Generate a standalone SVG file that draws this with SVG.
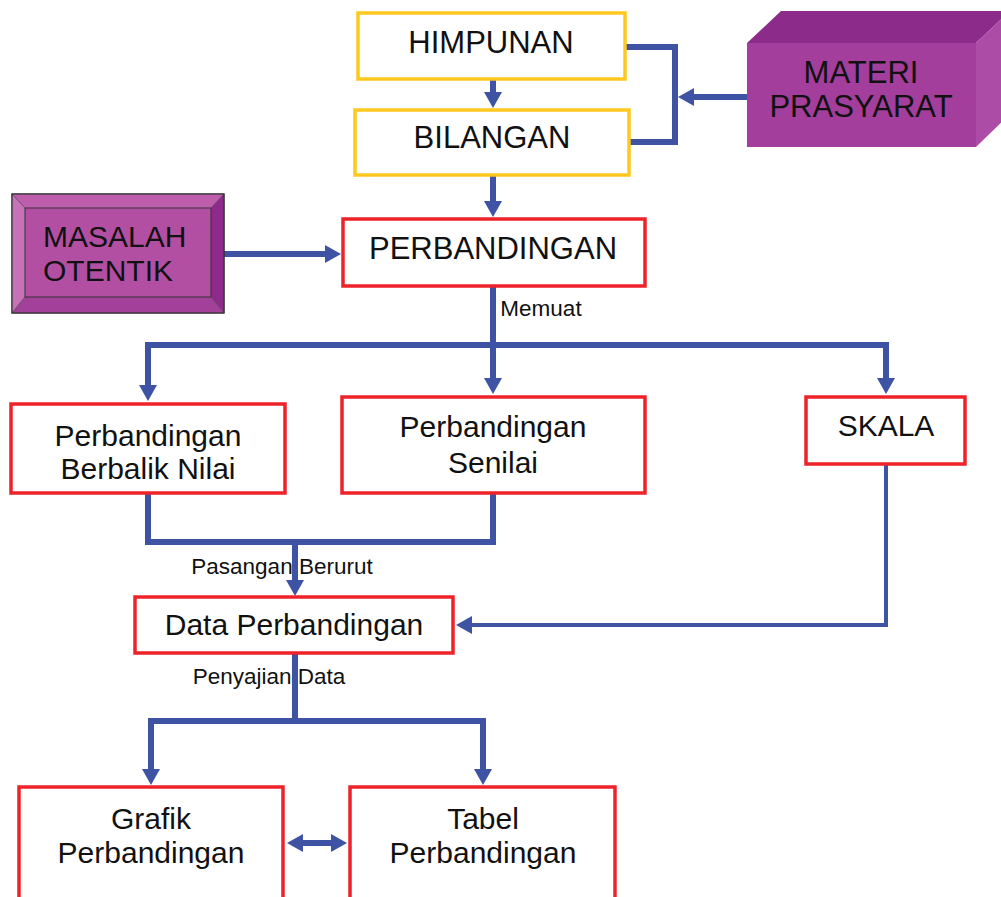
<svg xmlns="http://www.w3.org/2000/svg" width="1001" height="897" viewBox="0 0 1001 897">
<defs>
<style>
.yb{fill:#fff;stroke:#FFC81E;stroke-width:3.5}
.rb{fill:#fff;stroke:#EE2229;stroke-width:3.5}
.t{font-family:"Liberation Sans",Arial,sans-serif;fill:#111;text-anchor:middle}
.t30{font-size:30px}
.t31{font-size:31px}
.t22{font-size:22.5px}
.ln{fill:none;stroke:#3E53A4;stroke-width:6}
.thin{fill:none;stroke:#3E53A4;stroke-width:4}
.hd{fill:#3E53A4}
</style>
</defs>
<rect width="1001" height="897" fill="#fff"/>

<g id="connectors">
<line class="ln" x1="493" y1="80" x2="493" y2="94"/>
<path class="hd" d="M484,92 L502,92 L493,108 z"/>
<line class="ln" x1="493" y1="176" x2="493" y2="203"/>
<path class="hd" d="M484,201 L502,201 L493,217 z"/>
<polyline class="ln" points="625,47 675,47 675,142 629,142"/>
<line class="ln" x1="747" y1="97" x2="692" y2="97"/>
<path class="hd" d="M694,88 L694,106 L678,97 z"/>
<line class="ln" x1="224" y1="254" x2="327" y2="254"/>
<path class="hd" d="M325,245 L325,263 L341,254 z"/>
<line class="ln" x1="493" y1="287" x2="493" y2="345"/>
<polyline class="ln" points="148,386 148,345 886,345 886,380"/>
<line class="ln" x1="493" y1="345" x2="493" y2="380"/>
<path class="hd" d="M139,385 L157,385 L148,401 z"/>
<path class="hd" d="M484,378 L502,378 L493,394 z"/>
<path class="hd" d="M877,378 L895,378 L886,394 z"/>
<polyline class="ln" points="148,493 148,542 493,542 493,493"/>
<line class="ln" x1="295" y1="542" x2="295" y2="582"/>
<path class="hd" d="M286,580 L304,580 L295,596 z"/>
<polyline class="thin" points="886,464 886,625 470,625"/>
<path class="hd" d="M472,616 L472,634 L456,625 z"/>
<line class="ln" x1="295" y1="654" x2="295" y2="721"/>
<polyline class="ln" points="151,771 151,721 483,721 483,771"/>
<path class="hd" d="M142,769 L160,769 L151,785 z"/>
<path class="hd" d="M474,769 L492,769 L483,785 z"/>
<line class="ln" x1="300" y1="843" x2="334" y2="843"/>
<path class="hd" d="M303,834 L303,852 L287,843 z"/>
<path class="hd" d="M331,834 L331,852 L347,843 z"/>
<text class="t t22" x="541" y="316">Memuat</text>
<text class="t t22" x="282" y="574">Pasangan Berurut</text>
<text class="t t22" x="269" y="684">Penyajian Data</text>
</g>

<g id="himpunan">
<rect class="yb" x="358" y="13" width="267" height="66"/>
<text class="t t31" x="491" y="53">HIMPUNAN</text>
</g>
<g id="bilangan">
<rect class="yb" x="355" y="110" width="274" height="65"/>
<text class="t t31" x="492" y="148">BILANGAN</text>
</g>
<g id="materi">
<path d="M747,43 L781,11 L1010,11 L976,43 z" fill="#8D2B8B"/>
<path d="M976,43 L1010,11 L1010,114 L976,147 z" fill="#AC4CA6"/>
<rect x="747" y="43" width="229" height="104" fill="#A33E9C"/>
<text class="t t31" x="861" y="83">MATERI</text>
<text class="t t31" x="861" y="117">PRASYARAT</text>
</g>
<g id="perbandingan">
<rect class="rb" x="343" y="219" width="302" height="67"/>
<text class="t t31" x="493" y="259">PERBANDINGAN</text>
</g>
<g id="masalah">
<rect x="12" y="194" width="212" height="119" fill="#B24FA3" stroke="#333" stroke-width="1"/>
<path d="M12,194 L224,194 L211,208 L25,208 z" fill="#BD5DAC"/>
<path d="M12,194 L25,208 L25,297 L12,313 z" fill="#C772B8"/>
<path d="M224,194 L224,313 L211,297 L211,208 z" fill="#8E2A8C"/>
<path d="M12,313 L25,297 L211,297 L224,313 z" fill="#A3409A"/>
<rect x="25" y="208" width="186" height="89" fill="#B24FA3" stroke="#333" stroke-width="1"/>
<path d="M12,194 L25,208 M224,194 L211,208 M12,313 L25,297 M224,313 L211,297" stroke="#555" stroke-width="0.8"/>
<rect x="12" y="194" width="212" height="119" fill="none" stroke="#333" stroke-width="1.2"/>
<text class="t t30" x="43" y="247" style="text-anchor:start">MASALAH</text>
<text class="t t30" x="43" y="281" style="text-anchor:start">OTENTIK</text>
</g>
<g id="berbalik">
<rect class="rb" x="11" y="404" width="274" height="89"/>
<text class="t t30" x="148" y="446">Perbandingan</text>
<text class="t t30" x="148" y="479">Berbalik Nilai</text>
</g>
<g id="senilai">
<rect class="rb" x="342" y="397" width="303" height="96"/>
<text class="t t30" x="493" y="437">Perbandingan</text>
<text class="t t30" x="493" y="473">Senilai</text>
</g>
<g id="skala">
<rect class="rb" x="806" y="397" width="159" height="67"/>
<text class="t t30" x="886" y="436">SKALA</text>
</g>
<g id="data">
<rect class="rb" x="135" y="597" width="318" height="56"/>
<text class="t t30" x="294" y="635">Data Perbandingan</text>
</g>
<g id="grafik">
<rect class="rb" x="19" y="787" width="264" height="120"/>
<text class="t t30" x="151" y="829">Grafik</text>
<text class="t t30" x="151" y="863">Perbandingan</text>
</g>
<g id="tabel">
<rect class="rb" x="350" y="787" width="265" height="120"/>
<text class="t t30" x="483" y="829">Tabel</text>
<text class="t t30" x="483" y="863">Perbandingan</text>
</g>
</svg>
